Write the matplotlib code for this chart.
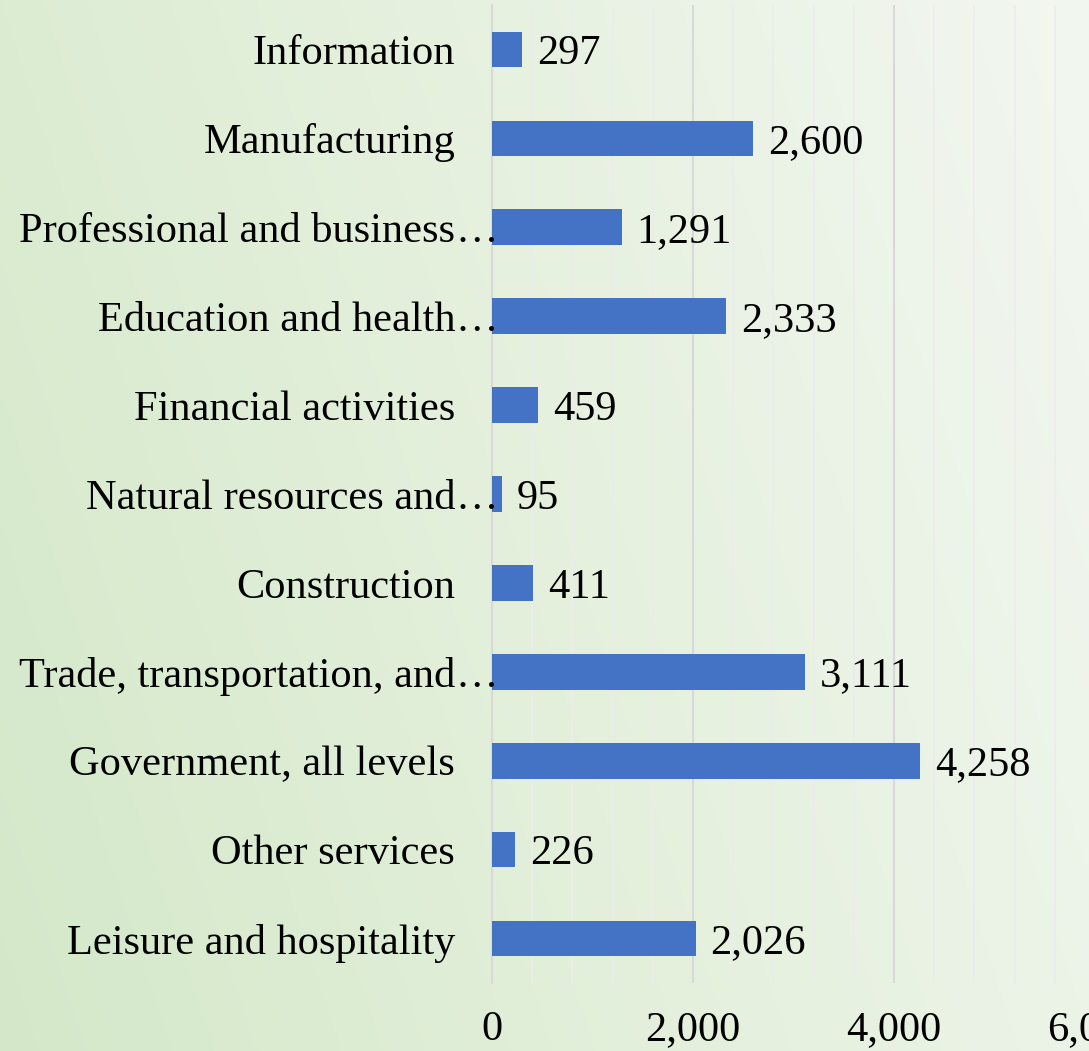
import numpy as np
import matplotlib
matplotlib.use('Agg')
import matplotlib.pyplot as plt
from matplotlib.colors import LinearSegmentedColormap
from matplotlib.ticker import MultipleLocator, FuncFormatter
import matplotlib.transforms as mtransforms

# data (top to bottom as shown)
categories = ['Information', 'Manufacturing', 'Professional and business',
              'Education and health', 'Financial activities', 'Natural resources and',
              'Construction', 'Trade, transportation, and', 'Government, all levels',
              'Other services', 'Leisure and hospitality']
truncated = [False, False, True, True, False, True, False, True, False, False, False]
values = [297, 2600, 1291, 2333, 459, 95, 411, 3111, 4258, 226, 2026]
xticks = [0, 2000, 4000, 6000]

plt.rcParams['font.family'] = ['Liberation Serif', 'DejaVu Serif']
fs = 30.5

fig = plt.figure(figsize=(10.89, 10.51), dpi=100)

# background gradient
bg = fig.add_axes([0, 0, 1, 1], zorder=-10)
gx, gy = np.meshgrid(np.linspace(0, 1, 300), np.linspace(0, 1, 300))
grad = np.clip(0.8 * gx + 0.25 * (1 - gy), 0, 1)
cmap = LinearSegmentedColormap.from_list('bg', ['#d4e8c9', '#e4f0dc', '#f1f6ef'])
bg.imshow(grad, cmap=cmap, aspect='auto', extent=[0, 1, 0, 1], origin='upper')
bg.axis('off')

ax = fig.add_axes([492 / 1089, 68 / 1051, 603 / 1089, 978 / 1051])
ax.patch.set_alpha(0)

y = np.arange(len(categories))
ax.barh(y, values, height=0.4, color='#4472C4', zorder=3)
ax.set_ylim(len(categories) - 0.5, -0.5)
ax.set_xlim(0, 6000)

ax.set_xticks(xticks)
ax.xaxis.set_minor_locator(MultipleLocator(400))
ax.xaxis.set_major_formatter(FuncFormatter(lambda v, p: f'{int(v):,}'))
ax.grid(axis='x', which='major', color='#d9d9d9', linewidth=1.5, zorder=0)
ax.grid(axis='x', which='minor', color='#ececec', linewidth=1.2, zorder=0)
ax.set_yticks(y)
ax.set_yticklabels(categories, fontsize=fs, va='center_baseline')
ax.tick_params(axis='y', length=0, pad=26.6)
ax.tick_params(axis='x', which='both', length=0, pad=20, labelsize=fs)
for s in ['top', 'right', 'bottom']:
    ax.spines[s].set_visible(False)
ax.spines['left'].set_color('#d9d9d9')
ax.spines['left'].set_linewidth(1.5)

# ellipsis for truncated labels
off = mtransforms.ScaledTranslation(-0.37, 0, fig.dpi_scale_trans)
for yi, t in zip(y, truncated):
    if t:
        ax.text(0, yi, '\u2026', transform=ax.get_yaxis_transform() + off,
                ha='left', va='center_baseline', fontsize=fs)

for yi, v in zip(y, values):
    ax.annotate(f'{v:,}', (v, yi), xytext=(10.8, 0), textcoords='offset points',
                ha='left', va='center_baseline', fontsize=fs)

fig.savefig('out.png', dpi=100)
